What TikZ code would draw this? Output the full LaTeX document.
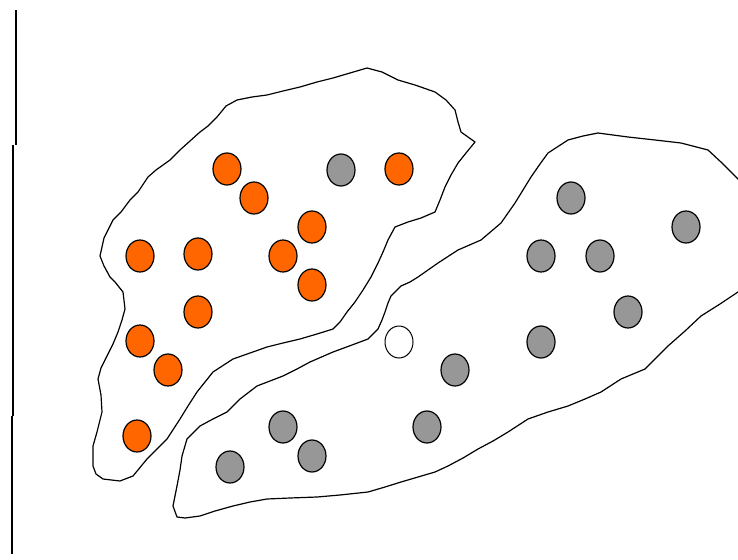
\documentclass[tikz,border=0pt]{standalone}
\usetikzlibrary{shapes.geometric}
\definecolor{dotorange}{HTML}{FF6600}
\definecolor{dotgray}{HTML}{979797}
\tikzset{
  dotbase/.style={ellipse, draw=black, line width=1.2pt, minimum width=28pt, minimum height=32pt, inner sep=0pt},
  odot/.style={dotbase, fill=dotorange},
  gdot/.style={dotbase, fill=dotgray},
  wdot/.style={dotbase, fill=white, line width=1pt},
  blob/.style={draw=black, line width=1.2pt, line join=round}
}
\begin{document}
\begin{tikzpicture}[x=1pt,y=-1pt]
\useasboundingbox (0,0) rectangle (738,559);
\clip (0,0) rectangle (738,559);
\fill[white] (0,0) rectangle (738,559);
% left vertical line
\draw[line width=2.5pt] (16,10) -- (16,145);
\draw[line width=1.8pt] (13,145) -- (13,416);
\draw[line width=1.8pt] (12,416) -- (12,554);
% left (orange) region
\draw[blob] (100,256) -- (104,238) -- (113,220) -- (121,212) -- (130,200) -- (138,192) -- (148,177) -- (156,170) -- (170,160) -- (180,150) -- (190,141) -- (200,132) -- (208,126) -- (217,117) -- (226,106) -- (237,100) -- (252,97) -- (267,95) -- (283,91) -- (300,87) -- (317,82) -- (333,78) -- (350,73) -- (367,68) -- (382,72) -- (398,80) -- (415,85) -- (435,92) -- (446,100) -- (455,110) -- (458,122) -- (461,132) -- (475,142) -- (466,153) -- (458,163) -- (451,175) -- (445,187) -- (440,200) -- (435,212) -- (421,218) -- (408,222) -- (395,227) -- (388,240) -- (383,252) -- (378,263) -- (371,277) -- (363,290) -- (355,302) -- (347,312) -- (340,322) -- (333,329) -- (317,334) -- (300,339) -- (283,343) -- (267,347) -- (250,353) -- (233,359) -- (213,372) -- (205,382) -- (197,392) -- (188,406) -- (180,419) -- (167,439) -- (157,449) -- (147,459) -- (133,476) -- (120,481) -- (103,479) -- (96,474) -- (93,466) -- (93,456) -- (93,446) -- (97,432) -- (102,412) -- (101,395) -- (98,379) -- (101,368) -- (107,356) -- (113,344) -- (118,332) -- (122,320) -- (125,309) -- (123,292) -- (115,282) -- (110,277) -- (104,266) -- cycle;
% right (gray) region
\draw[blob] (418,277) -- (438,263) -- (458,250) -- (481,240) -- (501,223) -- (515,203) -- (523,190) -- (531,177) -- (540,164) -- (548,153) -- (568,140) -- (583,136) -- (598,133) -- (613,135) -- (628,137) -- (655,140) -- (681,143) -- (708,150) -- (722,163) -- (737,178) -- (760,200) -- (760,270) -- (738,292) -- (720,304) -- (701,316) -- (685,331) -- (668,346) -- (645,369) -- (621,379) -- (601,392) -- (585,399) -- (568,406) -- (548,412) -- (528,419) -- (508,432) -- (493,441) -- (478,449) -- (463,458) -- (448,466) -- (435,472) -- (418,477) -- (401,482) -- (385,487) -- (368,492) -- (340,495) -- (317,497) -- (290,498) -- (267,499) -- (250,502) -- (233,506) -- (215,511) -- (200,516) -- (185,518) -- (177,517) -- (173,506) -- (175,496) -- (177,486) -- (180,470) -- (182,456) -- (187,439) -- (200,426) -- (213,419) -- (227,412) -- (240,399) -- (257,386) -- (270,381) -- (283,376) -- (297,369) -- (310,362) -- (333,352) -- (352,345) -- (368,339) -- (378,329) -- (382,320) -- (385,312) -- (388,303) -- (391,296) -- (401,286) -- (410,282) -- cycle;
% orange dots
\node[odot] (o1) at (227,169) {};
\node[odot] (o2) at (254,198) {};
\node[odot] (o3) at (399,169) {};
\node[odot] (o4) at (312,227) {};
\node[odot] (o5) at (140,256) {};
\node[odot] (o6) at (198,254) {};
\node[odot] (o7) at (283,256) {};
\node[odot] (o8) at (312,285) {};
\node[odot] (o9) at (198,312) {};
\node[odot] (o10) at (140,341) {};
\node[odot] (o11) at (168,370) {};
\node[odot] (o12) at (137,436) {};
% gray dots
\node[gdot] (g1) at (341,170) {};
\node[gdot] (g2) at (571,198) {};
\node[gdot] (g3) at (686,227) {};
\node[gdot] (g4) at (541,256) {};
\node[gdot] (g5) at (600,256) {};
\node[gdot] (g6) at (628,312) {};
\node[gdot] (g7) at (541,342) {};
\node[gdot] (g8) at (455,370) {};
\node[gdot] (g9) at (427,427) {};
\node[gdot] (g10) at (283,427) {};
\node[gdot] (g11) at (312,456) {};
\node[gdot] (g12) at (230,467) {};
% white dot
\node[wdot] (w1) at (399,342) {};
\end{tikzpicture}
\end{document}
